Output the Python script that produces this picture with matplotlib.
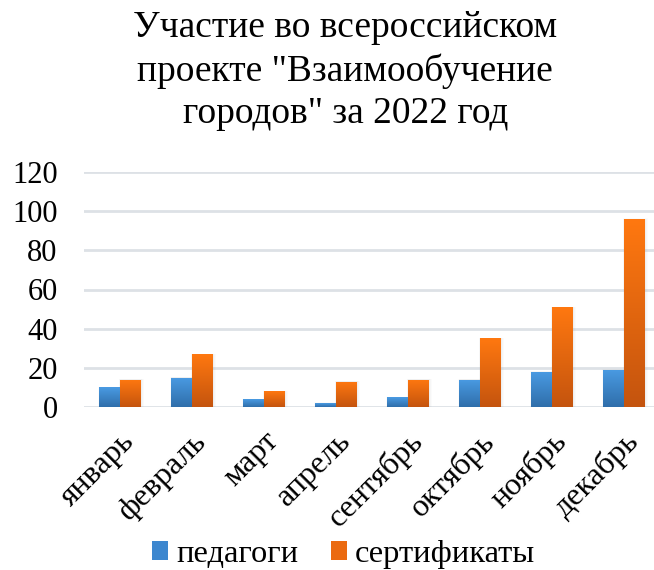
import numpy as np
import matplotlib
matplotlib.use("Agg")
import matplotlib.pyplot as plt
from matplotlib.colors import LinearSegmentedColormap
from matplotlib.patches import Patch

months = ["январь", "февраль", "март", "апрель", "сентябрь", "октябрь", "ноябрь", "декабрь"]
teachers = [10, 15, 4, 2, 5, 14, 18, 19]
certificates = [14, 27, 8, 13, 14, 35, 51, 96]
series_names = ["педагоги", "сертификаты"]
title = 'Участие во всероссийском\nпроекте "Взаимообучение\nгородов" за 2022 год'
yticks = [0, 20, 40, 60, 80, 100, 120]

plt.rcParams['font.family'] = ['Liberation Serif', 'DejaVu Serif']

fig = plt.figure(figsize=(6.54, 5.70), dpi=100)
ax = fig.add_axes([84/654, (570-407)/570, 576/654, (407-172)/570])

x = np.arange(len(months))
w = 0.29
blue_cm = LinearSegmentedColormap.from_list("b", ["#2F6EAA", "#4A9BE3"])
orange_cm = LinearSegmentedColormap.from_list("o", ["#C4540E", "#FF7810"])

grad = np.linspace(0, 1, 256).reshape(-1, 1)
for vals, off, cm, face in [(teachers, -w/2, blue_cm, "#3D87CF"), (certificates, w/2, orange_cm, "#EB6A10")]:
    bars = ax.bar(x + off, vals, width=w, color=face, zorder=3, linewidth=0)
    for b in bars:
        x0, y0 = b.get_x(), b.get_y()
        bw, bh = b.get_width(), b.get_height()
        for k, a in enumerate([0.05, 0.04, 0.03]):
            d = 0.012 * (k + 1)
            ax.add_patch(plt.Rectangle((x0 - d*0.3, y0 - 0.4*(k+1)), bw + d*1.6, bh + 0.5*(k+1),
                                       facecolor="#888888", alpha=a, linewidth=0, zorder=2))
        im = ax.imshow(grad, cmap=cm, origin="lower", aspect="auto",
                       extent=[x0, x0 + bw, y0, y0 + bh], zorder=3.5)
        im.set_clip_path(b)

ax.set_xlim(-0.5, len(months) - 0.5)
ax.set_ylim(0, 120)
ax.set_yticks(yticks)
ax.set_yticklabels([str(t) for t in yticks], fontsize=22)
ax.set_xticks(x)
ax.set_xticklabels(months, rotation=45, ha="right", rotation_mode="anchor", fontsize=23)
ax.tick_params(length=0)
ax.tick_params(axis='y', pad=19)
ax.tick_params(axis='x', pad=14)
ax.grid(axis='y', color="#DDE1E6", linewidth=2, zorder=0)
for s in ax.spines.values():
    s.set_visible(False)

fig.text(0.528, 0.982, title, ha="center", va="top", fontsize=27, linespacing=1.3)

handles = [Patch(facecolor="#3D87CF"), Patch(facecolor="#EB6A10")]
fig.legend(handles, series_names, loc="lower center", bbox_to_anchor=(0.525, -0.05), ncol=2,
           frameon=False, fontsize=23.4, handlelength=0.5, handleheight=0.5, handletextpad=0.25,
           columnspacing=1.0)

fig.savefig("out.png", dpi=100)
